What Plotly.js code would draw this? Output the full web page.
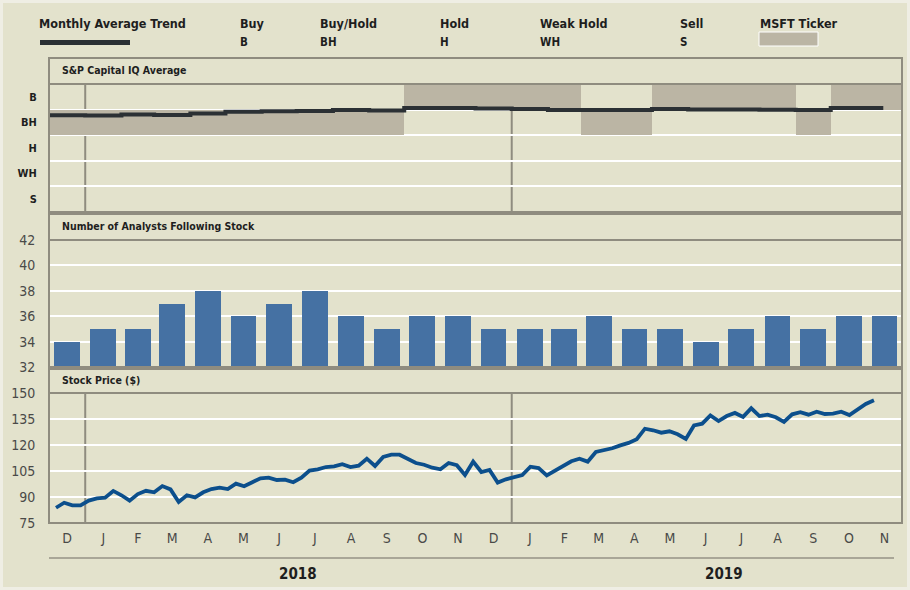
<!DOCTYPE html>
<html><head><meta charset="utf-8">
<script src="https://cdn.plot.ly/plotly-3.0.1.min.js"></script>
<style>
html,body{margin:0;padding:0;background:#e3e2cc;}
#chart{position:absolute;left:0;top:0;width:910px;height:590px;}
#frame{position:absolute;left:0;top:0;width:904px;height:584px;border:3px solid #efeee4;pointer-events:none;}
</style></head><body><div id="chart"></div><div id="frame"></div>
<script>
// ---------------- DATA ----------------
const months = ['2017-12','2018-01','2018-02','2018-03','2018-04','2018-05','2018-06','2018-07','2018-08','2018-09','2018-10','2018-11',
                '2018-12','2019-01','2019-02','2019-03','2019-04','2019-05','2019-06','2019-07','2019-08','2019-09','2019-10','2019-11'];
const monthLetters = ['D','J','F','M','A','M','J','J','A','S','O','N','D','J','F','M','A','M','J','J','A','S','O','N'];
const years = ['2018','2019'];
const ratingCodes = ['B','BH','H','WH','S'];
const ratingNames = ['Buy','Buy/Hold','Hold','Weak Hold','Sell'];
const ratingScore = {B:5, BH:4, H:3, WH:2, S:1};
// MSFT ticker rating per month
const tickerRating = ['BH','BH','BH','BH','BH','BH','BH','BH','BH','BH','B','B','B','B','B','BH','BH','B','B','B','B','BH','B','B'];
// S&P Capital IQ monthly average (score, B=5 ... S=1)
const trendAverage = [4.28,4.27,4.31,4.29,4.35,4.42,4.44,4.45,4.48,4.46,4.56,4.56,4.54,4.52,4.48,4.48,4.48,4.52,4.50,4.50,4.49,4.48,4.56,4.56];
const trendEndDate = '2019-11-15';
// Number of analysts following stock
const analystCount = [34,35,35,37,38,36,37,38,36,35,36,36,35,35,35,36,35,35,34,35,36,35,36,36];
// Weekly stock price ($), first close on 2017-12-07
const priceStartDate = '2017-12-07';
const weeklyPrice = [83.8,86.7,85.2,85.2,87.9,89.2,89.6,93.5,91.0,87.9,
  91.7,93.6,92.7,96.3,94.4,87.1,91.0,89.8,92.7,94.6,
  95.4,94.6,97.7,96.2,98.5,100.8,101.2,99.8,100.0,98.5,
  101.1,105.2,106.0,107.3,107.7,108.9,107.3,108.1,112.1,107.9,
  113.1,114.4,114.4,112.1,109.6,108.6,106.9,106.0,109.6,108.3,
  102.7,110.4,104.4,105.6,98.3,100.2,101.5,102.7,107.5,106.7,
  102.5,105.2,107.9,110.6,112.1,110.4,116.0,117.1,118.1,119.8,
  121.2,123.3,129.4,128.5,127.1,127.9,126.2,123.5,131.3,132.3,
  137.1,133.8,136.7,138.5,136.2,141.2,136.7,137.5,136.0,133.3,
  137.7,138.9,137.5,139.2,137.9,138.1,139.2,137.3,140.6,143.7,
  145.8];

// ---------------- HELPERS ----------------
const DAY = 86400000;
const iso = t => new Date(t).toISOString().slice(0,19).replace('T',' ');
const mStart = m => { const [y,mo]=m.split('-').map(Number); return Date.UTC(y,mo-1,1); };
const mEnd = m => { const [y,mo]=m.split('-').map(Number); return Date.UTC(y,mo,1); };
const monthStarts = months.map(m => iso(mStart(m)));
const monthMids = months.map(m => iso((mStart(m)+mEnd(m))/2));
const monthLens = months.map(m => mEnd(m)-mStart(m));
const p0 = Date.parse(priceStartDate+'T00:00:00Z');
const priceDates = weeklyPrice.map((_,i) => iso(p0 + i*7*DAY));
const xRange = [monthStarts[0], iso(mEnd(months[months.length-1]))];

const W=910,H=590,ML=49,MR=8,MT=58,MB=67;
const PW=W-ML-MR, PH=H-MT-MB;
const px = x => (x-ML)/PW;
const py = y => (H-MB-y)/PH;

const BG='#e3e2cc', BORDER='#8f8c7f', SHADE='#bbb5a4', BAR='#4571a3', PRICE='#0c4f8c', TREND='#2b3034';
const NARROW = '"DejaVu Sans Condensed","Liberation Sans Narrow","Roboto",sans-serif';

const P1={ht:58, pt:84, pb:212}, P2={ht:214, pt:240, pb:367}, P3={ht:369, pt:393, pb:523};

// ---------------- TRACES ----------------
const traces = [
  { type:'bar', x:monthStarts, y:tickerRating.map(()=>1), base:tickerRating.map(r=>ratingScore[r]-0.5),
    width:monthLens, offset:0, marker:{color:SHADE, line:{width:0}}, xaxis:'x', yaxis:'y', hoverinfo:'skip', showlegend:false },
  { type:'scatter', mode:'lines', x:monthStarts.concat([trendEndDate]), y:trendAverage.concat([trendAverage[trendAverage.length-1]]),
    line:{color:TREND, width:4, shape:'hv'}, xaxis:'x', yaxis:'y', showlegend:false },
  { type:'bar', x:monthMids, y:analystCount.map(v=>v-32), base:32, width:22*DAY, marker:{color:BAR}, xaxis:'x', yaxis:'y2', showlegend:false },
  { type:'scatter', mode:'lines', x:priceDates, y:weeklyPrice, line:{color:PRICE, width:3.8}, xaxis:'x', yaxis:'y3', showlegend:false }
];

// ---------------- LAYOUT ----------------
const tickFont = {family:NARROW, size:14, color:'#4a4a48'};
const shapes = [];
const annotations = [];
// year boundary lines in rating and price panels
[P1,P3].forEach(P => {
  years.forEach(yr => {
    shapes.push({type:'line', xref:'x', yref:'paper', x0:yr+'-01-01', x1:yr+'-01-01', y0:py(P.pb), y1:py(P.pt), line:{color:BORDER, width:2}, layer:'below'});
  });
});
[P1,P2,P3].forEach(P => {
  shapes.push({type:'rect', xref:'paper', yref:'paper', x0:0, x1:1, y0:py(P.pt), y1:py(P.ht), fillcolor:BG, line:{color:BORDER, width:2}, layer:'above'});
  shapes.push({type:'rect', xref:'paper', yref:'paper', x0:0, x1:1, y0:py(P.pb), y1:py(P.pt), line:{color:BORDER, width:2}, layer:'above'});
});
// year separator line
shapes.push({type:'line', xref:'paper', yref:'paper', x0:px(49), x1:px(894), y0:py(558), y1:py(558), line:{color:'#a9a697', width:2}});
years.forEach(yr => annotations.push({xref:'x', yref:'paper', x:yr+'-07-02', y:py(574), text:'<b>'+yr+'</b>', showarrow:false,
  font:{family:NARROW, size:15, color:'#1e1e1e'}, xanchor:'center', yanchor:'middle'}));

const headers = [['S&P Capital IQ Average',P1],['Number of Analysts Following Stock',P2],['Stock Price ($)',P3]];
headers.forEach(([t,P]) => annotations.push({xref:'paper', yref:'paper', x:px(60), y:py((P.ht+P.pt)/2-1), text:'<b>'+t+'</b>', showarrow:false,
  xanchor:'left', yanchor:'middle', font:{family:NARROW, size:10.5, color:'#1e1e1e'}}));

// legend
const legFont = {family:NARROW, size:12.5, color:'#1e1e1e'};
annotations.push({xref:'paper', yref:'paper', x:px(37), y:py(23), text:'<b>Monthly Average Trend</b>', showarrow:false, xanchor:'left', yanchor:'middle', font:legFont});
shapes.push({type:'rect', xref:'paper', yref:'paper', x0:px(40), x1:px(130), y0:py(45), y1:py(40), fillcolor:TREND, line:{width:0}});
const legX = [238,318,438,538,678];
ratingNames.forEach((n,i) => {
  annotations.push({xref:'paper', yref:'paper', x:px(legX[i]), y:py(23), text:'<b>'+n+'</b>', showarrow:false, xanchor:'left', yanchor:'middle', font:legFont});
  annotations.push({xref:'paper', yref:'paper', x:px(legX[i]), y:py(42), text:'<b>'+ratingCodes[i]+'</b>', showarrow:false, xanchor:'left', yanchor:'middle', font:{family:NARROW, size:11.5, color:'#1e1e1e'}});
});
annotations.push({xref:'paper', yref:'paper', x:px(758), y:py(23), text:'<b>MSFT Ticker</b>', showarrow:false, xanchor:'left', yanchor:'middle', font:legFont});
shapes.push({type:'rect', xref:'paper', yref:'paper', x0:px(759), x1:px(818), y0:py(46), y1:py(32), fillcolor:SHADE, line:{color:'#ffffff', width:1}});

const layout = {
  width:W, height:H, margin:{l:ML, r:MR, t:MT, b:MB}, paper_bgcolor:BG, plot_bgcolor:BG,
  showlegend:false, bargap:0,
  xaxis:{type:'date', range:xRange, anchor:'y3', tickmode:'array', tickvals:monthMids, ticktext:monthLetters,
    showgrid:false, zeroline:false, showline:false, ticks:'outside', ticklen:2, tickcolor:'rgba(0,0,0,0)', tickfont:tickFont, fixedrange:true},
  yaxis:{domain:[py(P1.pb), py(P1.pt)], anchor:'x', range:[0.5,5.5], tickmode:'array', tickvals:ratingCodes.map(c=>ratingScore[c]), ticktext:ratingCodes,
    showgrid:false, zeroline:false, ticks:'outside', ticklen:9, tickcolor:'rgba(0,0,0,0)',
    tickfont:{family:NARROW, size:11, color:'#1e1e1e', weight:'bold'},
    minor:{tickmode:'array', tickvals:[1.5,2.5,3.5,4.5], showgrid:true, gridcolor:'#ffffff', gridwidth:2, ticks:''}},
  yaxis2:{domain:[py(P2.pb), py(P2.pt)], anchor:'x', range:[32,42], tickmode:'linear', tick0:32, dtick:2,
    showgrid:true, gridcolor:'#ffffff', gridwidth:2, zeroline:false, ticks:'outside', ticklen:10, tickcolor:'rgba(0,0,0,0)', tickfont:tickFont},
  yaxis3:{domain:[0, py(P3.pt)], anchor:'x', range:[75,150], tickmode:'linear', tick0:75, dtick:15,
    showgrid:true, gridcolor:'#ffffff', gridwidth:2, zeroline:false, ticks:'outside', ticklen:10, tickcolor:'rgba(0,0,0,0)', tickfont:tickFont},
  shapes, annotations
};

Plotly.newPlot('chart', traces, layout, {displayModeBar:false, staticPlot:true});
</script></body></html>
